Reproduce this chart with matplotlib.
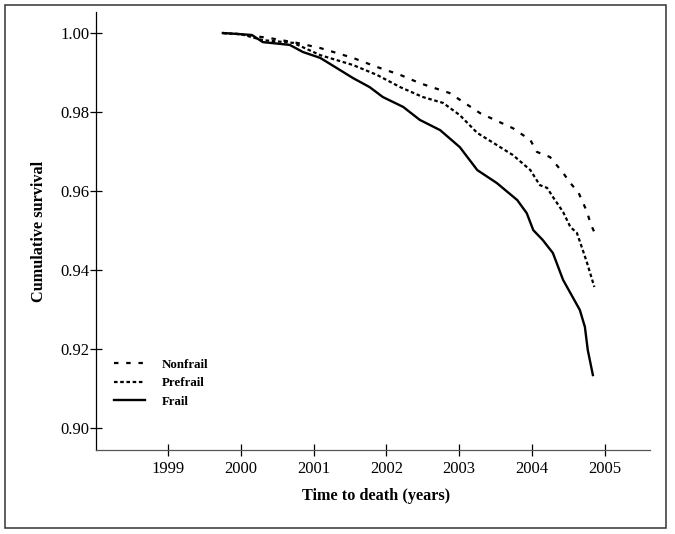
import matplotlib
matplotlib.use("Agg")
import matplotlib.pyplot as plt
from matplotlib.patches import Rectangle

plt.rcParams['font.family'] = ['Liberation Serif', 'DejaVu Serif']

# Data
frail_x = [1999.75, 2000.00, 2000.15, 2000.30, 2000.67, 2000.85, 2001.09, 2001.32,
           2001.54, 2001.77, 2001.95, 2002.23, 2002.46, 2002.74, 2003.01, 2003.25,
           2003.52, 2003.80, 2003.93, 2004.02, 2004.15, 2004.29, 2004.43, 2004.53,
           2004.66, 2004.73, 2004.77, 2004.84]
frail_y = [1.0000, 0.9997, 0.9995, 0.9977, 0.9970, 0.9952, 0.9937, 0.9911,
           0.9886, 0.9863, 0.9838, 0.9813, 0.9780, 0.9754, 0.9711, 0.9653,
           0.9620, 0.9577, 0.9544, 0.9501, 0.9476, 0.9443, 0.9375, 0.9342,
           0.9299, 0.9256, 0.9197, 0.9134]

prefrail_x = [1999.75, 2000.00, 2000.30, 2000.72, 2001.09, 2001.54, 2001.87, 2002.19,
              2002.50, 2002.78, 2003.01, 2003.25, 2003.47, 2003.74, 2003.98, 2004.11,
              2004.21, 2004.29, 2004.43, 2004.53, 2004.62, 2004.70, 2004.76, 2004.86]
prefrail_y = [1.0000, 0.9997, 0.9982, 0.9975, 0.9944, 0.9919, 0.9894, 0.9863,
              0.9838, 0.9823, 0.9792, 0.9747, 0.9722, 0.9691, 0.9653, 0.9615,
              0.9608, 0.9585, 0.9547, 0.9509, 0.9494, 0.9451, 0.9418, 0.9357]

nonfrail_x = [1999.75, 2000.00, 2000.40, 2000.77, 2001.09, 2001.54, 2001.87, 2002.19,
              2002.46, 2002.87, 2003.29, 2003.74, 2003.98, 2004.07, 2004.25, 2004.43,
              2004.53, 2004.64, 2004.70, 2004.76, 2004.81, 2004.86]
nonfrail_y = [1.0000, 0.9997, 0.9987, 0.9975, 0.9962, 0.9937, 0.9914, 0.9894,
              0.9873, 0.9848, 0.9797, 0.9759, 0.9729, 0.9699, 0.9686, 0.9646,
              0.9620, 0.9597, 0.9572, 0.9547, 0.9516, 0.9496]

x_ticks = [1999, 2000, 2001, 2002, 2003, 2004, 2005]
y_ticks = [0.90, 0.92, 0.94, 0.96, 0.98, 1.00]

fig = plt.figure(figsize=(6.75, 5.34), dpi=100)
ax = fig.add_axes([0.1422, 0.1573, 0.963 - 0.1422, 0.9775 - 0.1573])

ax.plot(nonfrail_x, nonfrail_y, color='black', lw=1.6, linestyle=(0, (2, 3.5)), label='Nonfrail')
ax.plot(prefrail_x, prefrail_y, color='black', lw=1.6, linestyle=(0, (1.6, 1.2)), label='Prefrail')
ax.plot(frail_x, frail_y, color='black', lw=1.7, linestyle='-', label='Frail')

ax.set_xlim(1998.005, 2005.626)
ax.set_ylim(0.89443, 1.00532)
ax.set_xticks(x_ticks)
ax.set_xticklabels([str(v) for v in x_ticks])
ax.set_yticks(y_ticks)
ax.set_yticklabels([f"{v:.2f}" for v in y_ticks])

for s in ['top', 'right']:
    ax.spines[s].set_visible(False)
ax.spines['left'].set_color('black')
ax.spines['left'].set_linewidth(0.9)
ax.spines['bottom'].set_color('#555555')
ax.spines['bottom'].set_linewidth(0.9)

ax.tick_params(axis='both', direction='inout', length=8.5, width=0.9, labelsize=12,
               color='black')
ax.tick_params(axis='y', pad=0.5)
ax.tick_params(axis='x', pad=3.5)

ax.set_xlabel('Time to death (years)', fontsize=11.7, fontweight='bold')
ax.set_ylabel('Cumulative survival', fontsize=11.7, fontweight='bold')
ax.xaxis.set_label_coords(0.5054, -0.0868)
ax.yaxis.set_label_coords(-0.0885, 0.5)

leg = ax.legend(loc='upper left', bbox_to_anchor=(0.012, 0.235), frameon=False,
                prop={'weight': 'bold', 'size': 9.3}, handlelength=2.4, handletextpad=1.3,
                labelspacing=0.5)

fig.patches.append(Rectangle((0.0074, 0.0112), 0.9867 - 0.0074, 0.9906 - 0.0112,
                             transform=fig.transFigure, fill=False,
                             edgecolor='#333333', linewidth=1.1))

fig.savefig('out.png', dpi=100)
